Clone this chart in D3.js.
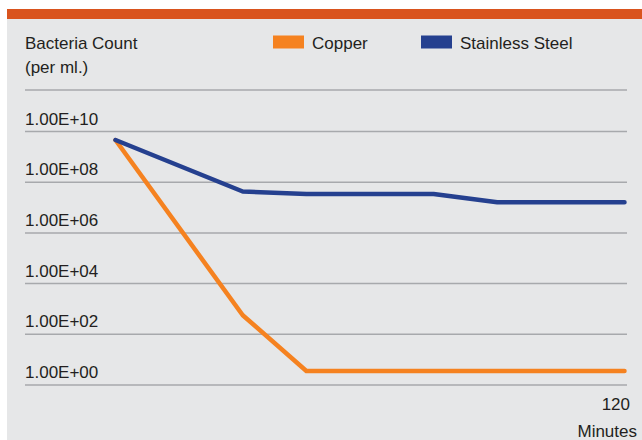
<!DOCTYPE html>
<html>
<head>
<meta charset="utf-8">
<script src="https://cdnjs.cloudflare.com/ajax/libs/d3/7.8.5/d3.min.js"></script>
<style>
  body { margin: 0; background: #fff; }
  text { font-family: "Liberation Sans", Arial, sans-serif; fill: #231f20; }
</style>
</head>
<body>
<div id="chart"></div>
<script>
const w = 642;
const h = 440;

// Data (minutes, bacteria per ml)
const minutes = [0, 30, 45, 75, 90, 120];
const copper = [4.4e9, 540, 3.4, 3.4, 3.4, 3.4];
const steel = [4.4e9, 4.1e7, 3.3e7, 3.3e7, 1.55e7, 1.55e7];
const seriesNames = ["Copper", "Stainless Steel"];
const seriesColors = ["#f58220", "#25408f"];
const yTicks = [1, 1e2, 1e4, 1e6, 1e8, 1e10];
const xTicks = [120];

const svg = d3.select("#chart")
    .append("svg")
    .attr("width", w)
    .attr("height", h);

// top band + grey panel
svg.append("rect")
    .attr("x", 7).attr("y", 9)
    .attr("width", w - 7).attr("height", 10)
    .attr("fill", "#d9541e");
svg.append("rect")
    .attr("x", 7).attr("y", 19)
    .attr("width", w - 7).attr("height", h - 19)
    .attr("fill", "#e6e7e8");

// Scales
const x = d3.scaleLinear().domain([0, 120]).range([115.5, 624.5]);
const y = d3.scaleLog().domain([1, 1e10]).range([384.5, 131]);

// header
const head = svg.append("text")
    .attr("x", 25).attr("y", 49)
    .attr("font-size", 17);
head.append("tspan").attr("x", 25).text("Bacteria Count");
head.append("tspan").attr("x", 25).attr("dy", 23.7).text("(per ml.)");

svg.append("line")
    .attr("x1", 25).attr("x2", 627)
    .attr("y1", 90).attr("y2", 90)
    .attr("stroke", "#a7a9ac")
    .attr("stroke-width", 1.5);

// legend
const legendX = [273, 421];
const legend = svg.selectAll(".legend")
    .data(seriesNames)
    .enter()
    .append("g")
    .attr("class", "legend")
    .attr("transform", (d, i) => "translate(" + legendX[i] + ",0)");
legend.append("rect")
    .attr("x", 0).attr("y", 35.5)
    .attr("width", 31).attr("height", 13)
    .attr("fill", (d, i) => seriesColors[i]);
legend.append("text")
    .attr("x", 39).attr("y", 49)
    .attr("font-size", 17)
    .text(d => d);

// Y axis as gridlines with labels above
const fmt = d => "1.00E+" + String(Math.round(Math.log10(d))).padStart(2, "0");
const yAxis = svg.append("g")
    .attr("class", "y axis")
    .attr("transform", "translate(25,0)")
    .call(d3.axisRight(y).tickValues(yTicks).tickSize(602).tickFormat(fmt));
yAxis.select(".domain").remove();
yAxis.selectAll(".tick line")
    .attr("stroke", "#a7a9ac")
    .attr("stroke-width", 1.5);
yAxis.selectAll(".tick text")
    .attr("x", 0)
    .attr("dy", -7)
    .attr("text-anchor", "start")
    .attr("font-size", 17)
    .attr("font-family", null)
    .attr("fill", "#231f20");

// X axis: only the last label
const xAxis = svg.append("g")
    .attr("class", "x axis")
    .attr("transform", "translate(0,410)")
    .call(d3.axisBottom(x).tickValues(xTicks).tickSize(0).tickPadding(0));
xAxis.select(".domain").remove();
xAxis.selectAll(".tick text")
    .attr("y", 0)
    .attr("dy", 0)
    .attr("x", 5)
    .attr("text-anchor", "end")
    .attr("font-size", 17)
    .attr("font-family", null)
    .attr("fill", "#231f20");

svg.append("text")
    .attr("x", 637).attr("y", 437)
    .attr("text-anchor", "end")
    .attr("font-size", 17)
    .text("Minutes");

// Lines
const line = d3.line()
    .x((d, i) => x(minutes[i]))
    .y(d => y(d));

[copper, steel].forEach((s, k) => {
    svg.append("path")
        .attr("d", line(s))
        .attr("fill", "none")
        .attr("stroke", seriesColors[k])
        .attr("stroke-width", 4.5)
        .attr("stroke-linejoin", "round")
        .attr("stroke-linecap", "round");
});
</script>
</body>
</html>
